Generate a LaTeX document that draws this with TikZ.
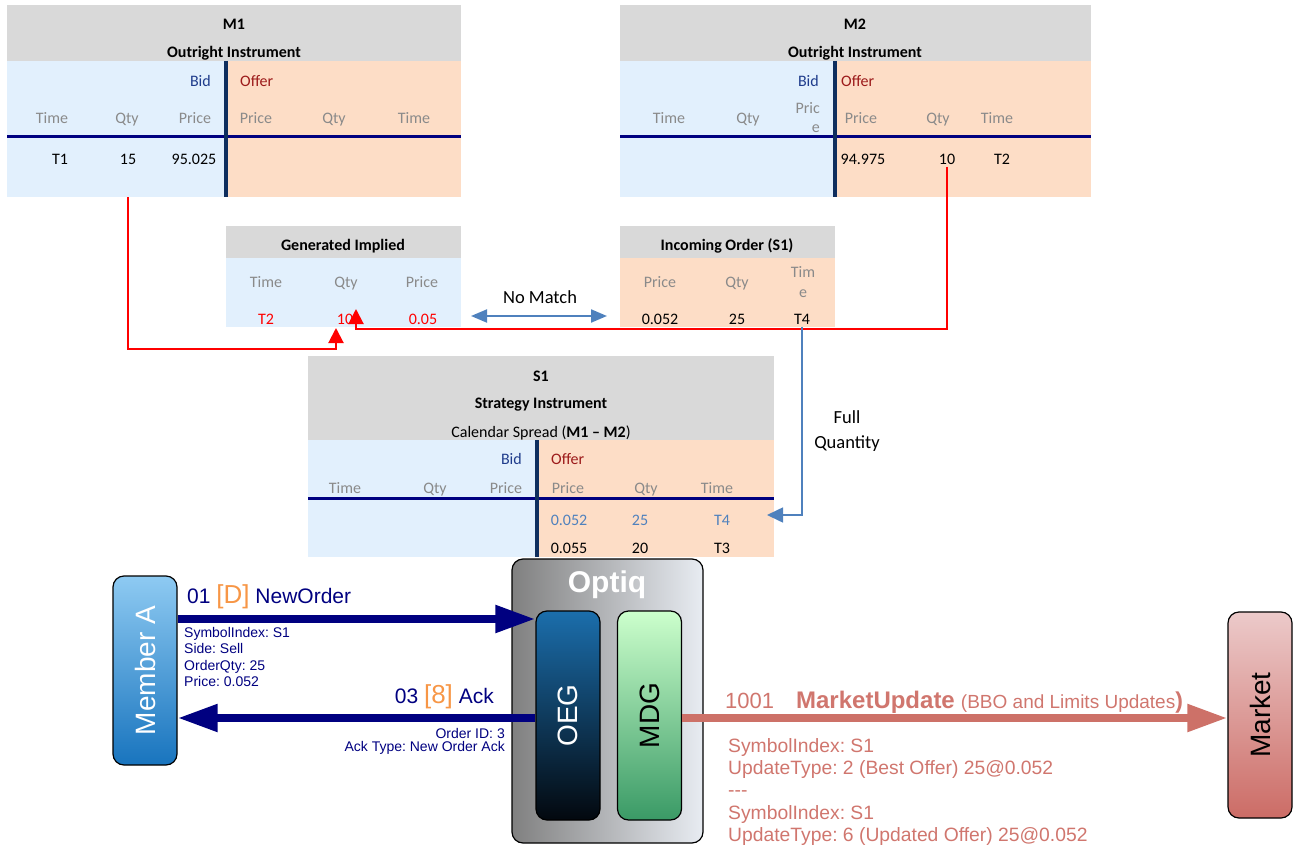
\documentclass[tikz,border=0pt]{standalone}
\usepackage{fontspec}
\setmainfont{Carlito}
\newfontfamily\arialfont{Liberation Sans}
\usetikzlibrary{arrows.meta}
\frenchspacing

\definecolor{hdrgrey}{HTML}{D9D9D9}
\definecolor{bidbg}{HTML}{E2F0FD}
\definecolor{offbg}{HTML}{FDDDC6}
\definecolor{navyline}{HTML}{000080}
\definecolor{divline}{HTML}{0E2E5E}
\definecolor{bidtxt}{HTML}{1F3C8C}
\definecolor{offtxt}{HTML}{9C1A1A}
\definecolor{colgrey}{HTML}{8A8A8A}
\definecolor{steel}{HTML}{4F81BD}
\definecolor{msgnavy}{HTML}{000080}
\definecolor{tagorange}{HTML}{F79646}
\definecolor{salmon}{HTML}{CD7168}
\definecolor{salmontxt}{HTML}{D0766E}
\definecolor{optiqL}{HTML}{808080}
\definecolor{optiqR}{HTML}{E8ECF2}
\definecolor{oegtop}{HTML}{1B6EAC}
\definecolor{oegbot}{HTML}{03080E}
\definecolor{mdgtop}{HTML}{CCFFCC}
\definecolor{mdgbot}{HTML}{3A9A66}
\definecolor{memtop}{HTML}{8ECAF2}
\definecolor{membot}{HTML}{1874BE}
\definecolor{mkttop}{HTML}{ECCACA}
\definecolor{mktbot}{HTML}{CC6C66}

\tikzset{
  box/.style={anchor=north west, inner sep=0pt, outer sep=0pt, minimum width=#1},
  cell/.style={text height=14pt, text depth=1pt},
  colhd/.style={cell, text=colgrey},
  ttl/.style={cell, font=\bfseries\fontsize{16}{19}\selectfont},
  redarr/.style={draw=red, line width=2pt, -{Triangle[length=15pt,width=15pt]}},
  bluearr/.style={draw=steel, line width=1.6pt, -{Triangle[length=16pt,width=15pt]}},
  msgarrow/.style={line width=8pt, -{Triangle[length=40pt,width=26pt]}},
  gate/.style={draw=black, line width=1.2pt, rounded corners=11pt, minimum width=64pt},
  vlabel/.style={rotate=90, font=\arialfont\fontsize{28}{30}\selectfont},
  arial/.style={font=\arialfont\fontsize{#1}{#1}\selectfont}
}

\begin{document}
\begin{tikzpicture}[x=1pt, y=-1pt, every node/.style={font=\fontsize{16}{19}\selectfont, inner sep=1pt}]
\useasboundingbox (0,0) rectangle (1300,845);

% M1 outright book
\node[box=454pt, fill=hdrgrey, minimum height=56pt] (m1hd) at (7,5) {};
\node[box=219pt, fill=bidbg, minimum height=136pt] (m1bid) at (7,61) {};
\node[box=235pt, fill=offbg, minimum height=136pt] (m1off) at (226,61) {};
\node[ttl] at (234,23) {M1};
\node[ttl] at (234,51) {Outright Instrument};
\node[cell, text=bidtxt, anchor=east] at (212,80) {Bid};
\node[cell, text=offtxt, anchor=west] at (239,80) {Offer};
\foreach \x/\t in {52/Time,127/Qty,195/Price,256/Price,334/Qty,414/Time}
  \node[colhd] at (\x,117) {\t};
\draw[navyline, line width=3pt] (m1bid.west |- 0,137) -- (m1off.east |- 0,137);
\draw[divline, line width=3.5pt] (m1off.north west) -- (m1off.south west);
\node[cell] at (60,158) {T1};
\node[cell] (m1qty) at (128,158) {15};
\node[cell] at (194,158) {95.025};

% M2 outright book
\node[box=471pt, fill=hdrgrey, minimum height=56pt] (m2hd) at (620,5) {};
\node[box=215pt, fill=bidbg, minimum height=136pt] (m2bid) at (620,61) {};
\node[box=256pt, fill=offbg, minimum height=136pt] (m2off) at (835,61) {};
\node[ttl] at (855,23) {M2};
\node[ttl] at (855,51) {Outright Instrument};
\node[cell, text=bidtxt, anchor=east] at (820,80) {Bid};
\node[cell, text=offtxt, anchor=west] at (840,80) {Offer};
\foreach \x/\t in {669/Time,748/Qty,861/Price,938/Qty,997/Time}
  \node[colhd] at (\x,117) {\t};
\node[text=colgrey, anchor=east, align=right, font=\fontsize{16}{19}\selectfont] at (821,118) {Pric\\e};
\draw[navyline, line width=3pt] (m2bid.west |- 0,137) -- (m2off.east |- 0,137);
\draw[divline, line width=3.5pt] (m2off.north west) -- (m2off.south west);
\node[cell] at (863,158) {94.975};
\node[cell] (m2qty) at (947,158) {10};
\node[cell] at (1002,158) {T2};

% generated implied
\node[box=235pt, fill=hdrgrey, minimum height=32pt] (genhd) at (226,226) {};
\node[box=235pt, fill=bidbg, minimum height=69pt] (genbg) at (226,258) {};
\node[ttl] at (343,244) {Generated Implied};
\foreach \x/\t in {266/Time,346/Qty,422/Price}
  \node[colhd] at (\x,281) {\t};
\node[cell, text=red] at (266,318) {T2};
\node[cell, text=red] (genqty) at (345,318) {10};
\node[cell, text=red] at (423,318) {0.05};

% incoming order
\node[box=215pt, fill=hdrgrey, minimum height=32pt] (inchd) at (620,226) {};
\node[box=215pt, fill=offbg, minimum height=69pt] (incbg) at (620,258) {};
\node[ttl] at (727,244) {Incoming Order (S1)};
\foreach \x/\t in {660/Price,737/Qty}
  \node[colhd] at (\x,281) {\t};
\node[text=colgrey, align=center, font=\fontsize{16}{20}\selectfont] at (803,282) {Tim\\e};
\node[cell] at (660,318) {0.052};
\node[cell] at (737,318) {25};
\node[cell] (inct4) at (802,318) {T4};

% no match
\node[font=\fontsize{18.5}{20}\selectfont] (nomatch) at (540,297) {No Match};
\draw[steel, line width=2pt, {Triangle[length=16pt,width=13pt]}-{Triangle[length=16pt,width=13pt]}]
  ([xshift=10pt]genbg.east |- 0,316) -- ([xshift=-13pt]incbg.west |- 0,316);

% S1 strategy book
\node[box=466pt, fill=hdrgrey, minimum height=84pt] (s1hd) at (308,356) {};
\node[box=229pt, fill=bidbg, minimum height=117pt] (s1bid) at (308,440) {};
\node[box=237pt, fill=offbg, minimum height=117pt] (s1off) at (537,440) {};
\node[ttl] at (541,375) {S1};
\node[ttl] at (541,402) {Strategy Instrument};
\node[cell] at (541,431) {Calendar Spread (\textbf{M1 – M2})};
\node[cell, text=bidtxt, anchor=east] at (523,458) {Bid};
\node[cell, text=offtxt, anchor=west] at (550,458) {Offer};
\foreach \x/\t in {345/Time,435/Qty,506/Price,568/Price,646/Qty,717/Time}
  \node[colhd] at (\x,487) {\t};
\draw[navyline, line width=3pt] (s1bid.west |- 0,498) -- (s1off.east |- 0,498);
\draw[divline, line width=3.5pt] (s1off.north west) -- (s1off.south west);
\foreach \x/\t/\n in {569/0.052/a,640/25/b,722/T4/c}
  \node[cell, text=steel] (s1new\n) at (\x,519) {\t};
\foreach \x/\t in {569/0.055,640/20,722/T3}
  \node[cell] at (\x,547) {\t};

% implied legs and full quantity
\coordinate (tipa) at (336,328);
\coordinate (tipb) at (356,309);
\draw[redarr] (m1qty |- m1bid.south) -- (m1qty |- 0,349) -| (tipa);
\draw[redarr] (m2qty.south) -- (m2qty |- 0,329) -| (tipb);
\coordinate (fqtip) at (767,515);
\draw[bluearr] (inct4.south) |- (fqtip);
\node[align=center, font=\fontsize{18.5}{25}\selectfont] (fullqty) at (847,431) {Full\\Quantity};

% gateways
\node[gate, left color=optiqL, right color=optiqR, minimum width=191pt, minimum height=284pt] (optiq) at (607.5,701) {};
\node[text=white, font=\arialfont\bfseries\fontsize{30}{30}\selectfont] at (607,585) {Optiq};
\node[gate, minimum height=209pt, top color=oegtop, bottom color=oegbot] (oeg) at (568,715.5) {};
\node[vlabel, text=white] at (oeg) {OEG};
\node[gate, minimum height=209pt, top color=mdgtop, bottom color=mdgbot] (mdg) at (649.5,715.5) {};
\node[vlabel] at (mdg) {MDG};
\node[gate, minimum height=189pt, top color=memtop, bottom color=membot] (member) at (145,670.5) {};
\node[vlabel, text=white] at (member) {Member A};
\node[gate, minimum height=206pt, top color=mkttop, bottom color=mktbot] (market) at (1260,715) {};
\node[vlabel] at (market) {Market};

% messages
\draw[msgarrow, msgnavy] (member.east |- 0,619) -- (oeg.west |- 0,619);
\draw[msgarrow, msgnavy] (oeg.west |- 0,718) -- (member.east |- 0,718);
\draw[msgarrow, salmon] (mdg.east |- 0,718) -- (market.west |- 0,718);

\node[arial=21, text=msgnavy, anchor=west] (neword) at (186,597)
  {01 {\color{tagorange}\fontsize{26}{26}\selectfont[D]} NewOrder};
\node[text=msgnavy, anchor=north west, align=left, font=\arialfont\fontsize{14}{16.5}\selectfont]
  (newdet) at (183,626) {SymbolIndex: S1\\Side: Sell\\OrderQty: 25\\Price: 0.052};
\node[arial=21, text=msgnavy, anchor=east] (ack) at (495,697)
  {03 {\color{tagorange}\fontsize{26}{26}\selectfont[8]} Ack};
\node[text=msgnavy, anchor=north east, align=right, font=\arialfont\fontsize{14}{13.5}\selectfont]
  (ackdet) at (506,727) {Order ID: 3\\Ack Type: New Order Ack};
\node[arial=22, text=salmontxt, anchor=west] (mktupd) at (724,702)
  {1001\hspace{22pt}{\fontsize{24}{24}\selectfont\textbf{MarketUpdate}} {\fontsize{19}{19}\selectfont(BBO and Limits Updates}{\fontsize{23}{23}\selectfont\textbf{)}}};
\node[text=salmontxt, anchor=north west, align=left, font=\arialfont\fontsize{19.3}{22.3}\selectfont]
  (mktdet) at (727,737) {SymbolIndex: S1\\UpdateType: 2 (Best Offer) 25@0.052\\{-}{-}{-}\\SymbolIndex: S1\\UpdateType: 6 (Updated Offer) 25@0.052};
\end{tikzpicture}
\end{document}
